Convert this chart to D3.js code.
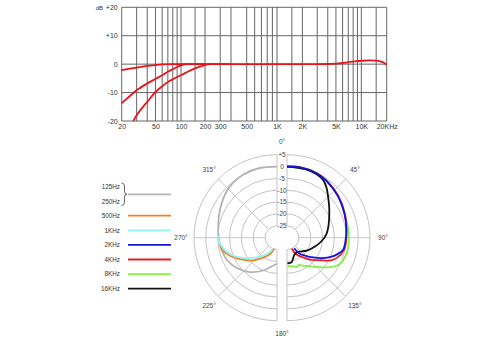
<!DOCTYPE html>
<html><head><meta charset="utf-8">
<script src="https://cdn.jsdelivr.net/npm/d3@7"></script>
<style>html,body{margin:0;padding:0;background:#fff;} svg{display:block;font-family:"Liberation Sans",Arial,sans-serif;}</style>
</head><body><svg id="c" width="500" height="350"></svg>
<script>
// ---------- DATA: frequency response ----------
const freqGrid = [20,30,40,50,60,70,80,90,100,150,200,300,400,500,600,700,800,900,1000,1500,2000,3000,4000,5000,6000,7000,8000,9000,10000,15000,20000];
const freqTicks = [20,50,100,200,300,500,1000,2000,5000,10000,20000];
const freqTickLabels = ["20","50","100","200","300","500","1K","2K","5K","10K","20KHz"];
const dbTicks = [20,10,0,-10,-20];
const dbTickLabels = ["+20","+10","0","-10","-20"];
const respFlat = [[20,-2.1],[25,-1.6],[30,-1.2],[40,-0.6],[50,-0.3],[60,-0.1],[80,0],[200,0],[1000,0],[3000,0],[4000,0.05],[5000,0.2],[6000,0.4],[7000,0.7],[8000,0.9],[10000,1.2],[12500,1.35],[15000,1.25],[17000,0.9],[18500,0.5],[20000,-0.2]];
const respCut1 = [[20,-13.7],[25,-11.2],[30,-9.2],[40,-6.8],[50,-5.2],[60,-3.9],[70,-2.7],[80,-1.8],[90,-1.0],[100,-0.4],[120,0],[200,0]];
const respCut2 = [[27.4,-20],[30,-18],[35,-15.3],[40,-13.3],[50,-9.8],[60,-7.8],[70,-6.3],[80,-5.3],[90,-4.5],[100,-3.9],[125,-2.5],[150,-1.5],[175,-0.8],[200,-0.3],[230,0],[400,0]];

// ---------- DATA: polar pattern ----------
const polarRings = [5,0,-5,-10,-15,-20,-25];
const polarRingLabels = ["+5","0","-5","-10","-15","-20","-25"];
const angleTicks = [0,45,90,135,180,225,270,315];
const angleLabels = ["0°","45°","90°","135°","180°","225°","270°","315°"];
const pol125_250 = [[360,0],[346,0.3],[332,0.2],[317,-0.7],[302,-2.5],[284,-4.5],[268,-5.5],[257,-6.1],[246,-6.9],[233,-8.8],[218,-11.6],[202,-15.2],[190,-17.8],[180,-19]];
const pol500 = [[262,-5.9],[258,-6.2],[249,-8.7],[240,-11.9],[228,-15.6],[217,-19.2],[203,-22.5],[194,-25.2]];
const pol1k = [[272,-5.2],[266,-5.6],[261,-6.4],[254,-8],[246,-10.7],[236,-14.6],[224,-18.6],[212,-21.9],[200,-24.8]];
const pol2k = [[0,0],[10,0.2],[25,-0.1],[35,-0.9],[50,-2.2],[68,-3.8],[83,-4.7],[91,-5.2],[102,-5.8],[108,-7.6],[113,-9.5],[120,-12.8],[127,-16.2],[134,-19],[141,-21.2],[146,-24.6]];
const pol4k = [[0,0],[10,0.2],[25,0],[35,-0.7],[50,-2],[68,-3.6],[82,-4.8],[91,-5],[102,-5.4],[112,-7.3],[118,-9.5],[124,-13],[132,-16],[140,-19],[147,-21],[153,-22.6],[156,-25]];
const pol8k = [[0,0],[20,0],[35,-0.8],[45,-1.8],[55,-2.7],[64,-3.5],[83,-3.9],[98,-3.9],[106,-4.1],[112,-4.5],[118,-5.5],[124,-7.8],[130,-10.5],[138,-13.6],[146,-15.6],[151,-16.5],[156,-17.5],[162,-17],[170,-17.8],[179,-17.9]];
const pol16k = [[0,0],[15,-0.1],[25,-0.5],[32,-1.3],[38,-3],[45,-5.5],[54,-8],[64,-10.2],[74,-11.8],[84,-13.2],[95,-15.2],[107,-17.5],[120,-19.6],[133,-21.5],[145,-22.6],[155,-22.3],[162,-21.3],[169,-19.5],[175,-19.2],[179,-19.3]];
const legendNames = ["125Hz","500Hz","1KHz","2KHz","4KHz","8KHz","16KHz"];
const legendColors = ["#b4b4b4","#f08028","#8ff6f2","#1414dc","#ea2020","#86f046","#111111"];

// ---------- TOP CHART ----------
const svg = d3.select("#c");
const x = d3.scaleLog().domain([20,100,200,400,500,1000,20000]).range([121.7,181,205,231,246.7,277,386.7]);
const y = d3.scaleLinear().domain([-20,20]).range([121,7.3]);
const topG = svg.append("g");
topG.selectAll("line.v").data(freqGrid).join("line").attr("class","v")
  .attr("x1",d=>x(d)).attr("x2",d=>x(d)).attr("y1",y(20)).attr("y2",y(-20))
  .attr("stroke","#666").attr("stroke-width",1);
topG.selectAll("line.h").data(dbTicks).join("line").attr("class","h")
  .attr("x1",x(20)).attr("x2",x(20000)).attr("y1",d=>y(d)).attr("y2",d=>y(d))
  .attr("stroke","#666").attr("stroke-width",1);
const xa = topG.append("g").attr("transform",`translate(0,${y(-20)})`)
  .call(d3.axisBottom(x).tickValues(freqTicks).tickFormat((d,i)=>freqTickLabels[i]).tickSize(0).tickPadding(3.5));
const ya = topG.append("g").attr("transform",`translate(${x(20)},0)`)
  .call(d3.axisLeft(y).tickValues(dbTicks).tickFormat((d,i)=>dbTickLabels[i]).tickSize(0).tickPadding(4));
[xa,ya].forEach(a=>{a.select(".domain").remove();a.selectAll("text").attr("font-size",7).attr("fill","#333").attr("font-family","Liberation Sans, Arial, sans-serif");});
topG.append("text").attr("x",103).attr("y",y(20)+2.2).attr("text-anchor","end").attr("font-size",6).attr("fill","#333").text("dB");
const rline = d3.line().x(d=>x(d[0])).y(d=>y(d[1])).curve(d3.curveMonotoneX);
[respCut2,respCut1,respFlat].forEach(s=>{
  topG.append("path").attr("d",rline(s)).attr("fill","none").attr("stroke","#e8141c").attr("stroke-width",1.8);
});

// ---------- POLAR CHART ----------
const cy = 237.7, cxR = 287, cxL = 277, cxMid = 282;
const r = d3.scaleLinear().domain([-30,5]).range([0,83]);
const pg = svg.append("g");
const gridCol = "#c4c4c4";
polarRings.forEach(db=>{
  const pR = d3.path(); pR.arc(cxR, cy, r(db), -Math.PI/2, Math.PI/2);
  const pL = d3.path(); pL.arc(cxL, cy, r(db), Math.PI/2, 3*Math.PI/2);
  pg.append("path").attr("d",pR.toString()).attr("fill","none").attr("stroke",gridCol).attr("stroke-width",1);
  pg.append("path").attr("d",pL.toString()).attr("fill","none").attr("stroke",gridCol).attr("stroke-width",1);
});
const spokes = [[0,cxR],[45,cxR],[90,cxR],[135,cxR],[180,cxR],[180,cxL],[225,cxL],[270,cxL],[315,cxL],[360,cxL]];
spokes.forEach(([a,cx])=>{
  const rad = a*Math.PI/180;
  pg.append("line")
    .attr("x1",cx+r(-25)*Math.sin(rad)).attr("y1",cy-r(-25)*Math.cos(rad))
    .attr("x2",cx+r(5)*Math.sin(rad)).attr("y2",cy-r(5)*Math.cos(rad))
    .attr("stroke",gridCol).attr("stroke-width",1);
});
pg.selectAll("text.rl").data(polarRings).join("text").attr("class","rl")
  .attr("x",cxMid).attr("y",d=>cy-r(d)).attr("dy","0.35em").attr("text-anchor","middle")
  .attr("font-size",6.5).attr("fill","#444").text((d,i)=>polarRingLabels[i]);
pg.selectAll("text.al").data(angleTicks).join("text").attr("class","al")
  .attr("x",d=>{const c = (d===0||d===180)?cxMid:(d<180?cxR:cxL); return c+96*Math.sin(d*Math.PI/180);})
  .attr("y",d=>cy-96*Math.cos(d*Math.PI/180)).attr("dy","0.35em").attr("text-anchor","middle")
  .attr("font-size",6.5).attr("fill","#444").text((d,i)=>angleLabels[i]);

const rl = d3.lineRadial().angle(d=>d[0]*Math.PI/180).radius(d=>r(d[1])).curve(d3.curveCatmullRom.alpha(0.5));
const polSeries = [
  {data:pol125_250, c:legendColors[0], cx:cxL},
  {data:pol500, c:legendColors[1], cx:cxL},
  {data:pol1k, c:legendColors[2], cx:cxL},
  {data:pol8k, c:legendColors[5], cx:cxR},
  {data:pol4k, c:legendColors[4], cx:cxR},
  {data:pol16k, c:legendColors[6], cx:cxR},
  {data:pol2k, c:legendColors[3], cx:cxR}
];
polSeries.forEach(s=>{
  pg.append("path").attr("transform",`translate(${s.cx},${cy})`).attr("d",rl(s.data))
    .attr("fill","none").attr("stroke",s.c).attr("stroke-width",1.8);
});

// ---------- LEGEND ----------
const lg = svg.append("g");
const rowY = i => i===0 ? 194.3 : 215.7 + (i-1)*14.6;
legendNames.forEach((n,i)=>{
  lg.append("line").attr("x1",128).attr("x2",171).attr("y1",rowY(i)).attr("y2",rowY(i))
    .attr("stroke",legendColors[i]).attr("stroke-width",1.8);
  if(i===0){
    lg.append("text").attr("x",120).attr("y",186.7).attr("dy","0.35em").attr("text-anchor","end").attr("font-size",6.3).attr("fill","#333").text("125Hz");
    lg.append("text").attr("x",120).attr("y",201.7).attr("dy","0.35em").attr("text-anchor","end").attr("font-size",6.3).attr("fill","#333").text("250Hz");
    lg.append("path").attr("d","M121.5,183 Q124.5,183 124.5,186 L124.5,191.5 Q124.5,194.3 127,194.3 Q124.5,194.3 124.5,197 L124.5,202.5 Q124.5,205.5 121.5,205.5")
      .attr("fill","none").attr("stroke","#444").attr("stroke-width",0.8);
  } else {
    lg.append("text").attr("x",120).attr("y",rowY(i)).attr("dy","0.35em").attr("text-anchor","end").attr("font-size",6.3).attr("fill","#333").text(n);
  }
});
</script></body></html>
